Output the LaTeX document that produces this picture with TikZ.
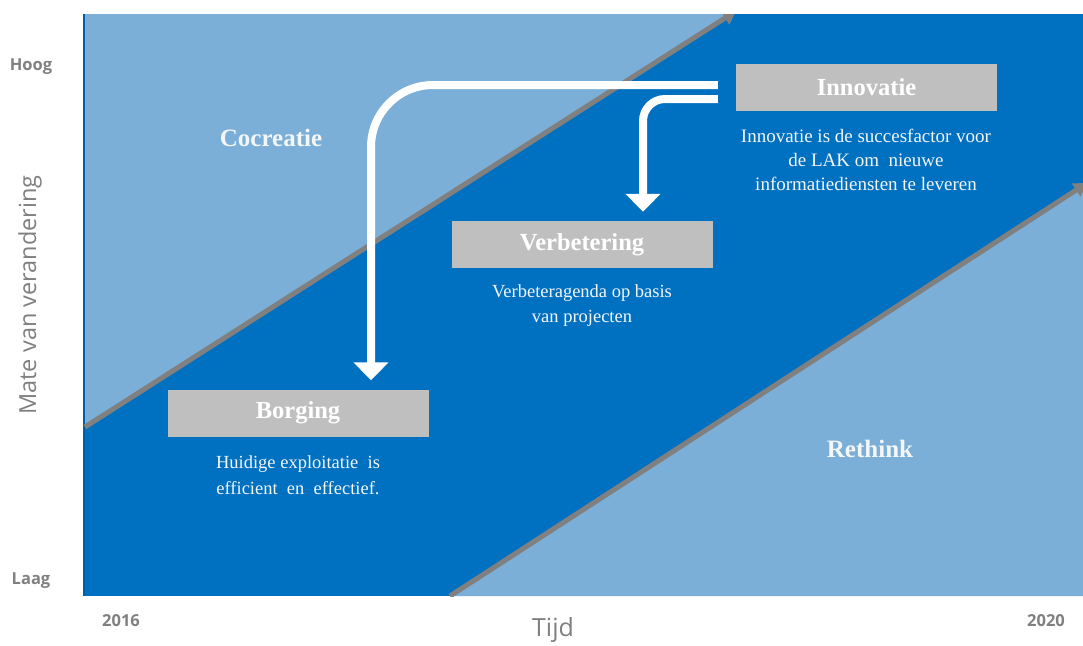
\documentclass[tikz,border=0pt]{standalone}
\usepackage{fontspec}
\setmainfont{Liberation Serif}
\newfontfamily\labfont{Open Sans}
\usetikzlibrary{arrows.meta}
\definecolor{lightblue}{HTML}{7BAFD7}
\definecolor{darkblue}{HTML}{0070C0}
\definecolor{edgeblue}{HTML}{005FA8}
\definecolor{boxgray}{HTML}{BFBFBF}
\definecolor{linegray}{HTML}{808080}
\definecolor{labgray}{HTML}{808080}
\definecolor{softwhite}{HTML}{F4F6F8}
\tikzset{
  titlebox/.style={fill=boxgray, minimum width=261, minimum height=47, inner sep=0, text=white,
    font=\bfseries\fontsize{24.5}{28}\selectfont},
  desc/.style={align=center, text=softwhite, inner sep=0, font=\fontsize{19}{24}\selectfont},
  zone/.style={text=softwhite, inner sep=0, font=\bfseries\fontsize{25}{28}\selectfont},
  axlab/.style={text=labgray, inner sep=0, font=\labfont\bfseries\fontsize{16.5}{19}\selectfont},
  axtitle/.style={text=labgray, inner sep=0, font=\labfont\fontsize{23.5}{27}\selectfont},
  flow/.style={draw=white, line width=8, -{Triangle[width=34pt,length=18pt]}},
  trend/.style={draw=linegray, line width=5, -{Triangle[width=15pt,length=13pt]}}
}
\begin{document}
\begin{tikzpicture}[x=1pt,y=-1pt]
\useasboundingbox (0,0) rectangle (1083,645);
\fill[white] (0,0) rectangle (1083,645);
% panel
\fill[darkblue] (83,14) rectangle (1083,596);
\fill[lightblue] (85,14) -- (732,14) -- (85,427) -- cycle;
\fill[lightblue] (450,596) -- (1083,185.3) -- (1083,596) -- cycle;
\draw[edgeblue, line width=2] (84,14) -- (84,596);
\begin{scope}
  \clip (83,14) rectangle (1083,596);
  \coordinate (t1s) at (85,427);
  \coordinate (t1e) at (736,11);
  \coordinate (t2s) at (450,596);
  \coordinate (t2e) at (1087,183);
  \draw[trend] (t1s) -- (t1e);
  \draw[trend] (t2s) -- (t2e);
\end{scope}
% zone labels
\node[zone] (coc) at (271,138) {Cocreatie};
\node[zone] (ret) at (870,449) {Rethink};
% boxes
\node[titlebox] (inno) at (866.5,87.5) {Innovatie};
\node[titlebox] (verb) at (582,244.5) {Verbetering};
\node[titlebox] (borg) at (298,413) {Borging};
% descriptions
\node[desc] (innod) at (866,160) {Innovatie is de succesfactor voor\\de LAK om\ \ nieuwe\\informatiediensten te leveren};
\node[desc, font=\fontsize{18.5}{25}\selectfont] (verbd) at (582,306) {Verbeteragenda op basis\\van projecten};
\node[desc, font=\fontsize{18.5}{26}\selectfont] (borgd) at (298,475) {Huidige exploitatie\ \ is\\efficient\ \ en\ \ effectief.};
% flow arrows
\coordinate (a1) at ([xshift=-18pt,yshift=2.5pt]inno.west);
\coordinate (a2) at ([xshift=-18pt,yshift=-11.5pt]inno.west);
\draw[flow, rounded corners=62pt] (a1) -| ([yshift=9pt]borg.north -| 371,0);
\draw[flow, rounded corners=22pt] (a2) -| ([yshift=9pt]verb.north -| 643,0);
% axis labels
\node[axlab] (hoog) at (31,67) {Hoog};
\node[axlab] (laag) at (31,581) {Laag};
\node[axtitle, rotate=90] (mate) at (30,295) {Mate van verandering};
\node[axlab] (y16) at (121,621) {2016};
\node[axlab] (y20) at (1046,621) {2020};
\node[axtitle, font=\labfont\fontsize{25}{28}\selectfont] (tijd) at (553,630) {Tijd};
\end{tikzpicture}
\end{document}
